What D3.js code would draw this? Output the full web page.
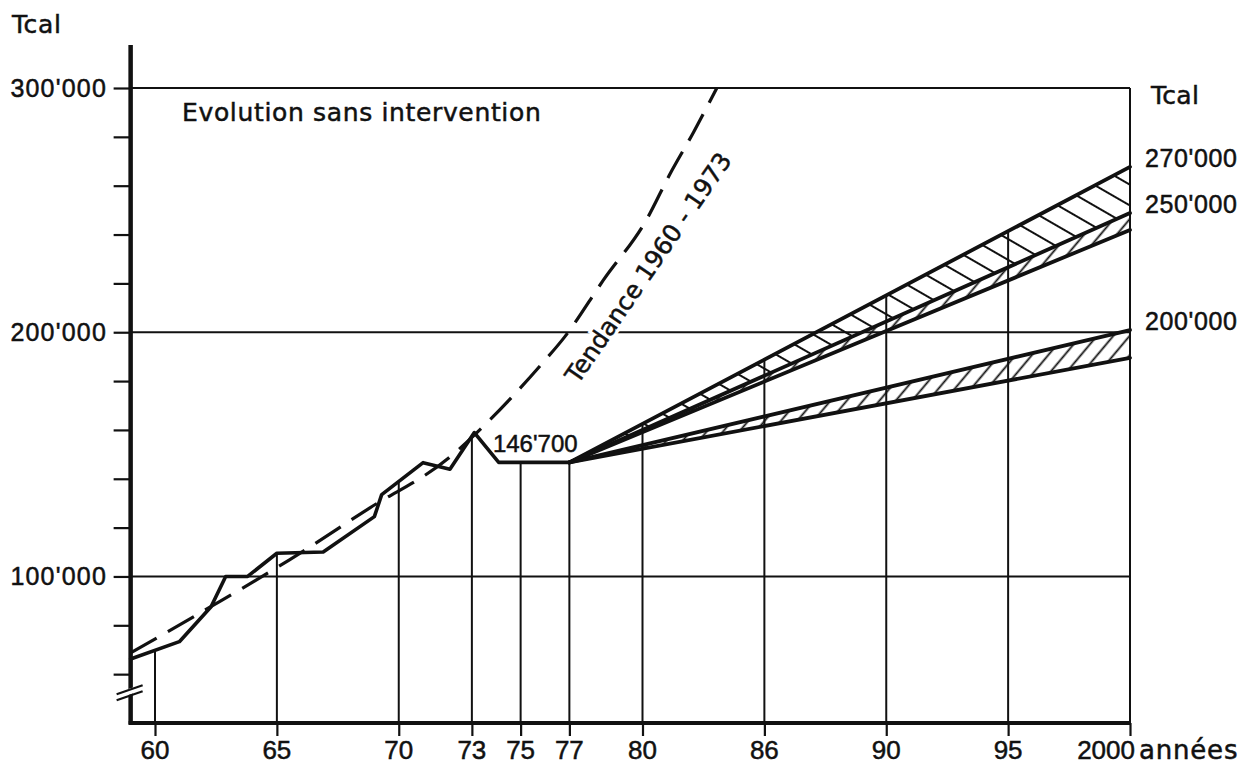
<!DOCTYPE html>
<html><head><meta charset="utf-8">
<script src="https://cdn.jsdelivr.net/npm/d3@7"></script>
<style>body{margin:0;background:#fff;} svg{display:block}</style>
</head><body><svg id="c" width="1249" height="765"></svg>
<script>
// ---- data ----
const histYears  = [1959, 1961, 1962.3, 1962.9, 1963.8, 1965, 1966.9, 1969, 1969.3, 1971, 1972.1, 1973.1, 1974.1, 1977];
const histValues = [66200, 73300, 87600, 100000, 100000, 109500, 110000, 124500, 133500, 146600, 143900, 158900, 146700, 146700];

const trendYears  = [1959, 1962.2, 1965.5, 1968.8, 1972.1, 1973.1, 1975.9, 1976.8, 1978.4, 1980.2, 1981.1, 1982.1, 1983.05];
const trendValues = [68700, 87100, 106700, 128000, 148900, 157900, 187400, 198000, 221400, 246700, 264300, 282000, 300000];

const projYears     = [1977, 2000];
const projTop       = [146700, 267700];
const projMid       = [146700, 248800];
const projUpperLow  = [146700, 241900];
const projLowTop    = [146700, 200900];
const projLowBottom = [146700, 189500];

const xTickYears  = [1960, 1965, 1970, 1973, 1975, 1977, 1980, 1985, 1990, 1995, 2000];
const xTickLabels = ["60", "65", "70", "73", "75", "77", "80", "86", "90", "95", "2000"];

const yMajorValues = [100000, 200000, 300000];
const yMajorLabels = ["100'000", "200'000", "300'000"];
const yMinorValues = [60000, 80000, 100000, 120000, 140000, 160000, 180000, 200000, 220000, 240000, 260000, 280000, 300000];

const rightLabels      = ["270'000", "250'000", "200'000"];
const rightLabelValues = [267700, 248800, 200900];
const axisTopValue = 317600;
const breakValue = 53000;
const peakLabel = "146'700";
const peakLabelYear = 1975.6;
const peakValue = 146700;

// ---- scales ----
const x = d3.scaleLinear().domain([1960, 2000]).range([155, 1130]);
const y = d3.scaleLinear().domain([40000, 300000]).range([723, 88]);
const x0 = x(1959), x1 = x(2000), yb = y(40000), yt = y(300000);

const svg = d3.select("#c");
const ink = "#111";
const NUM = "'Liberation Sans', Arial, sans-serif";
const WORD = "'DejaVu Sans', sans-serif";

// patterns
const defs = svg.append("defs");
function hatch(id, size, angle, w) {
  const p = defs.append("pattern").attr("id", id).attr("patternUnits", "userSpaceOnUse")
    .attr("width", size).attr("height", size).attr("patternTransform", `rotate(${angle})`);
  p.append("line").attr("x1", size / 2).attr("y1", 0).attr("x2", size / 2).attr("y2", size)
    .attr("stroke", ink).attr("stroke-width", w);
}
hatch("hBack", 18, -60, 2);
hatch("hFwd", 12.5, 40, 1.8);

// gridlines
svg.append("g").selectAll("line").data(yMajorValues).join("line")
  .attr("x1", x0).attr("x2", x1).attr("y1", d => y(d)).attr("y2", d => y(d))
  .attr("stroke", ink).attr("stroke-width", 2);
// right border
svg.append("line").attr("x1", x1).attr("x2", x1).attr("y1", yt).attr("y2", yb)
  .attr("stroke", ink).attr("stroke-width", 2);

// interpolation helpers for drop lines
function interp(xs, vs, t) {
  for (let i = 0; i < xs.length - 1; i++) {
    if (t >= xs[i] && t <= xs[i + 1]) return vs[i] + (vs[i + 1] - vs[i]) * (t - xs[i]) / (xs[i + 1] - xs[i]);
  }
  return vs[vs.length - 1];
}
const dropYears = xTickYears.filter(d => d < 2000);
svg.append("g").selectAll("line").data(dropYears).join("line")
  .attr("x1", d => x(d)).attr("x2", d => x(d)).attr("y1", yb)
  .attr("y2", d => y(d <= 1977 ? interp(histYears, histValues, d) : interp(projYears, projTop, d)))
  .attr("stroke", ink).attr("stroke-width", 2);

// hatched bands
function band(lo, hi, fill) {
  const data = projYears.map((yr, i) => ({ yr, lo: lo[i], hi: hi[i] }));
  svg.append("path").datum(data)
    .attr("d", d3.area().x(d => x(d.yr)).y0(d => y(d.lo)).y1(d => y(d.hi)))
    .attr("fill", fill);
}
band(projMid, projTop, "url(#hBack)");
band(projUpperLow, projMid, "url(#hFwd)");
band(projLowBottom, projLowTop, "url(#hFwd)");

const line = d3.line().x(d => x(d[0])).y(d => y(d[1]));
[projTop, projMid, projUpperLow, projLowTop, projLowBottom].forEach(s => {
  svg.append("path").datum(projYears.map((yr, i) => [yr, s[i]]))
    .attr("d", line).attr("fill", "none").attr("stroke", ink).attr("stroke-width", 3.8)
    .attr("stroke-linecap", "round");
});

// historical line
svg.append("path").datum(histYears.map((yr, i) => [yr, histValues[i]]))
  .attr("d", line).attr("fill", "none").attr("stroke", ink).attr("stroke-width", 3.6)
  .attr("stroke-linejoin", "round").attr("stroke-linecap", "round");

// trend label (halo first so the gridline breaks under it)
const tendT = "translate(578,385) rotate(-55.5)";
svg.append("text").attr("transform", tendT)
  .attr("font-family", WORD).attr("font-size", 24.5)
  .attr("fill", "#fff").attr("stroke", "#fff").attr("stroke-width", 7)
  .text("Tendance 1960 - 1973");

// trend dashed
svg.append("path").datum(trendYears.map((yr, i) => [yr, trendValues[i]]))
  .attr("d", d3.line().x(d => x(d[0])).y(d => y(d[1])).curve(d3.curveMonotoneX))
  .attr("fill", "none").attr("stroke", ink).attr("stroke-width", 3.2)
  .attr("stroke-dasharray", "30,13");

// y axis ticks
const ya = d3.axisLeft(y).tickValues(yMinorValues).tickSize(17).tickFormat("");
const gy = svg.append("g").attr("transform", `translate(${x0},0)`).call(ya);
gy.select(".domain").remove();
gy.selectAll(".tick line").attr("stroke", ink).attr("stroke-width", 2.2);
// x axis ticks
const xa = d3.axisBottom(x).tickValues(xTickYears).tickSize(13).tickFormat("");
const gx = svg.append("g").attr("transform", `translate(0,${yb})`).call(xa);
gx.select(".domain").remove();
gx.selectAll(".tick line").attr("stroke", ink).attr("stroke-width", 2.2);

// thick axes
svg.append("line").attr("x1", x0).attr("x2", x0).attr("y1", y(axisTopValue)).attr("y2", yb + 1.5)
  .attr("stroke", ink).attr("stroke-width", 4.5);
svg.append("line").attr("x1", x0 - 2).attr("x2", x1 + 1).attr("y1", yb).attr("y2", yb)
  .attr("stroke", ink).attr("stroke-width", 4);

// axis break
const ybk = y(breakValue);
svg.append("polygon")
  .attr("points", `${x0 - 6},${ybk + 5} ${x0 + 6},${ybk + 1} ${x0 + 6},${ybk - 5} ${x0 - 6},${ybk - 1}`)
  .attr("fill", "#fff");
[5, -1].forEach(a => {
  svg.append("line").attr("x1", x0 - 14).attr("y1", ybk + a + 4).attr("x2", x0 + 12).attr("y2", ybk + a - 5)
    .attr("stroke", ink).attr("stroke-width", 2.2);
});

// text helper with slight emboldening
function txt(sel) {
  return sel.attr("fill", ink).attr("stroke", ink).attr("stroke-width", 0.5);
}

// y labels
txt(svg.append("g").selectAll("text").data(yMajorValues).join("text")
  .attr("x", 107).attr("y", d => y(d) + 9).attr("text-anchor", "end")
  .attr("font-family", NUM).attr("font-size", 25).attr("letter-spacing", 1.2)
  .text((d, i) => yMajorLabels[i]));

// x labels
txt(svg.append("g").selectAll("text").data(xTickYears).join("text")
  .attr("x", d => d === 2000 ? x(d) + 5 : x(d)).attr("y", 759)
  .attr("text-anchor", d => d === 2000 ? "end" : "middle")
  .attr("font-family", NUM).attr("font-size", 26)
  .text((d, i) => xTickLabels[i]));
txt(svg.append("text").attr("x", x1 + 9).attr("y", 759).attr("font-family", WORD).attr("font-size", 26)
  .attr("letter-spacing", 0.8).text("années"));

// right labels
txt(svg.append("g").selectAll("text").data(rightLabelValues).join("text")
  .attr("x", 1145).attr("y", d => y(d)).attr("font-family", NUM).attr("font-size", 25)
  .attr("letter-spacing", 0.6).text((d, i) => rightLabels[i]));

// units
txt(svg.append("text").attr("x", 12).attr("y", 33).attr("font-family", WORD).attr("font-size", 25)
  .attr("letter-spacing", 0.6).text("Tcal"));
txt(svg.append("text").attr("x", 1151).attr("y", 104).attr("font-family", WORD).attr("font-size", 25)
  .attr("letter-spacing", 0.3).text("Tcal"));

// annotations
txt(svg.append("text").attr("x", 182).attr("y", 121).attr("font-family", WORD).attr("font-size", 25)
  .attr("letter-spacing", 0.65).text("Evolution sans intervention"));
txt(svg.append("text").attr("x", x(peakLabelYear)).attr("y", y(peakValue) - 10).attr("text-anchor", "middle")
  .attr("font-family", NUM).attr("font-size", 24).text(peakLabel));
txt(svg.append("text").attr("transform", tendT)
  .attr("font-family", WORD).attr("font-size", 24.5)
  .text("Tendance 1960 - 1973"));
</script></body></html>
